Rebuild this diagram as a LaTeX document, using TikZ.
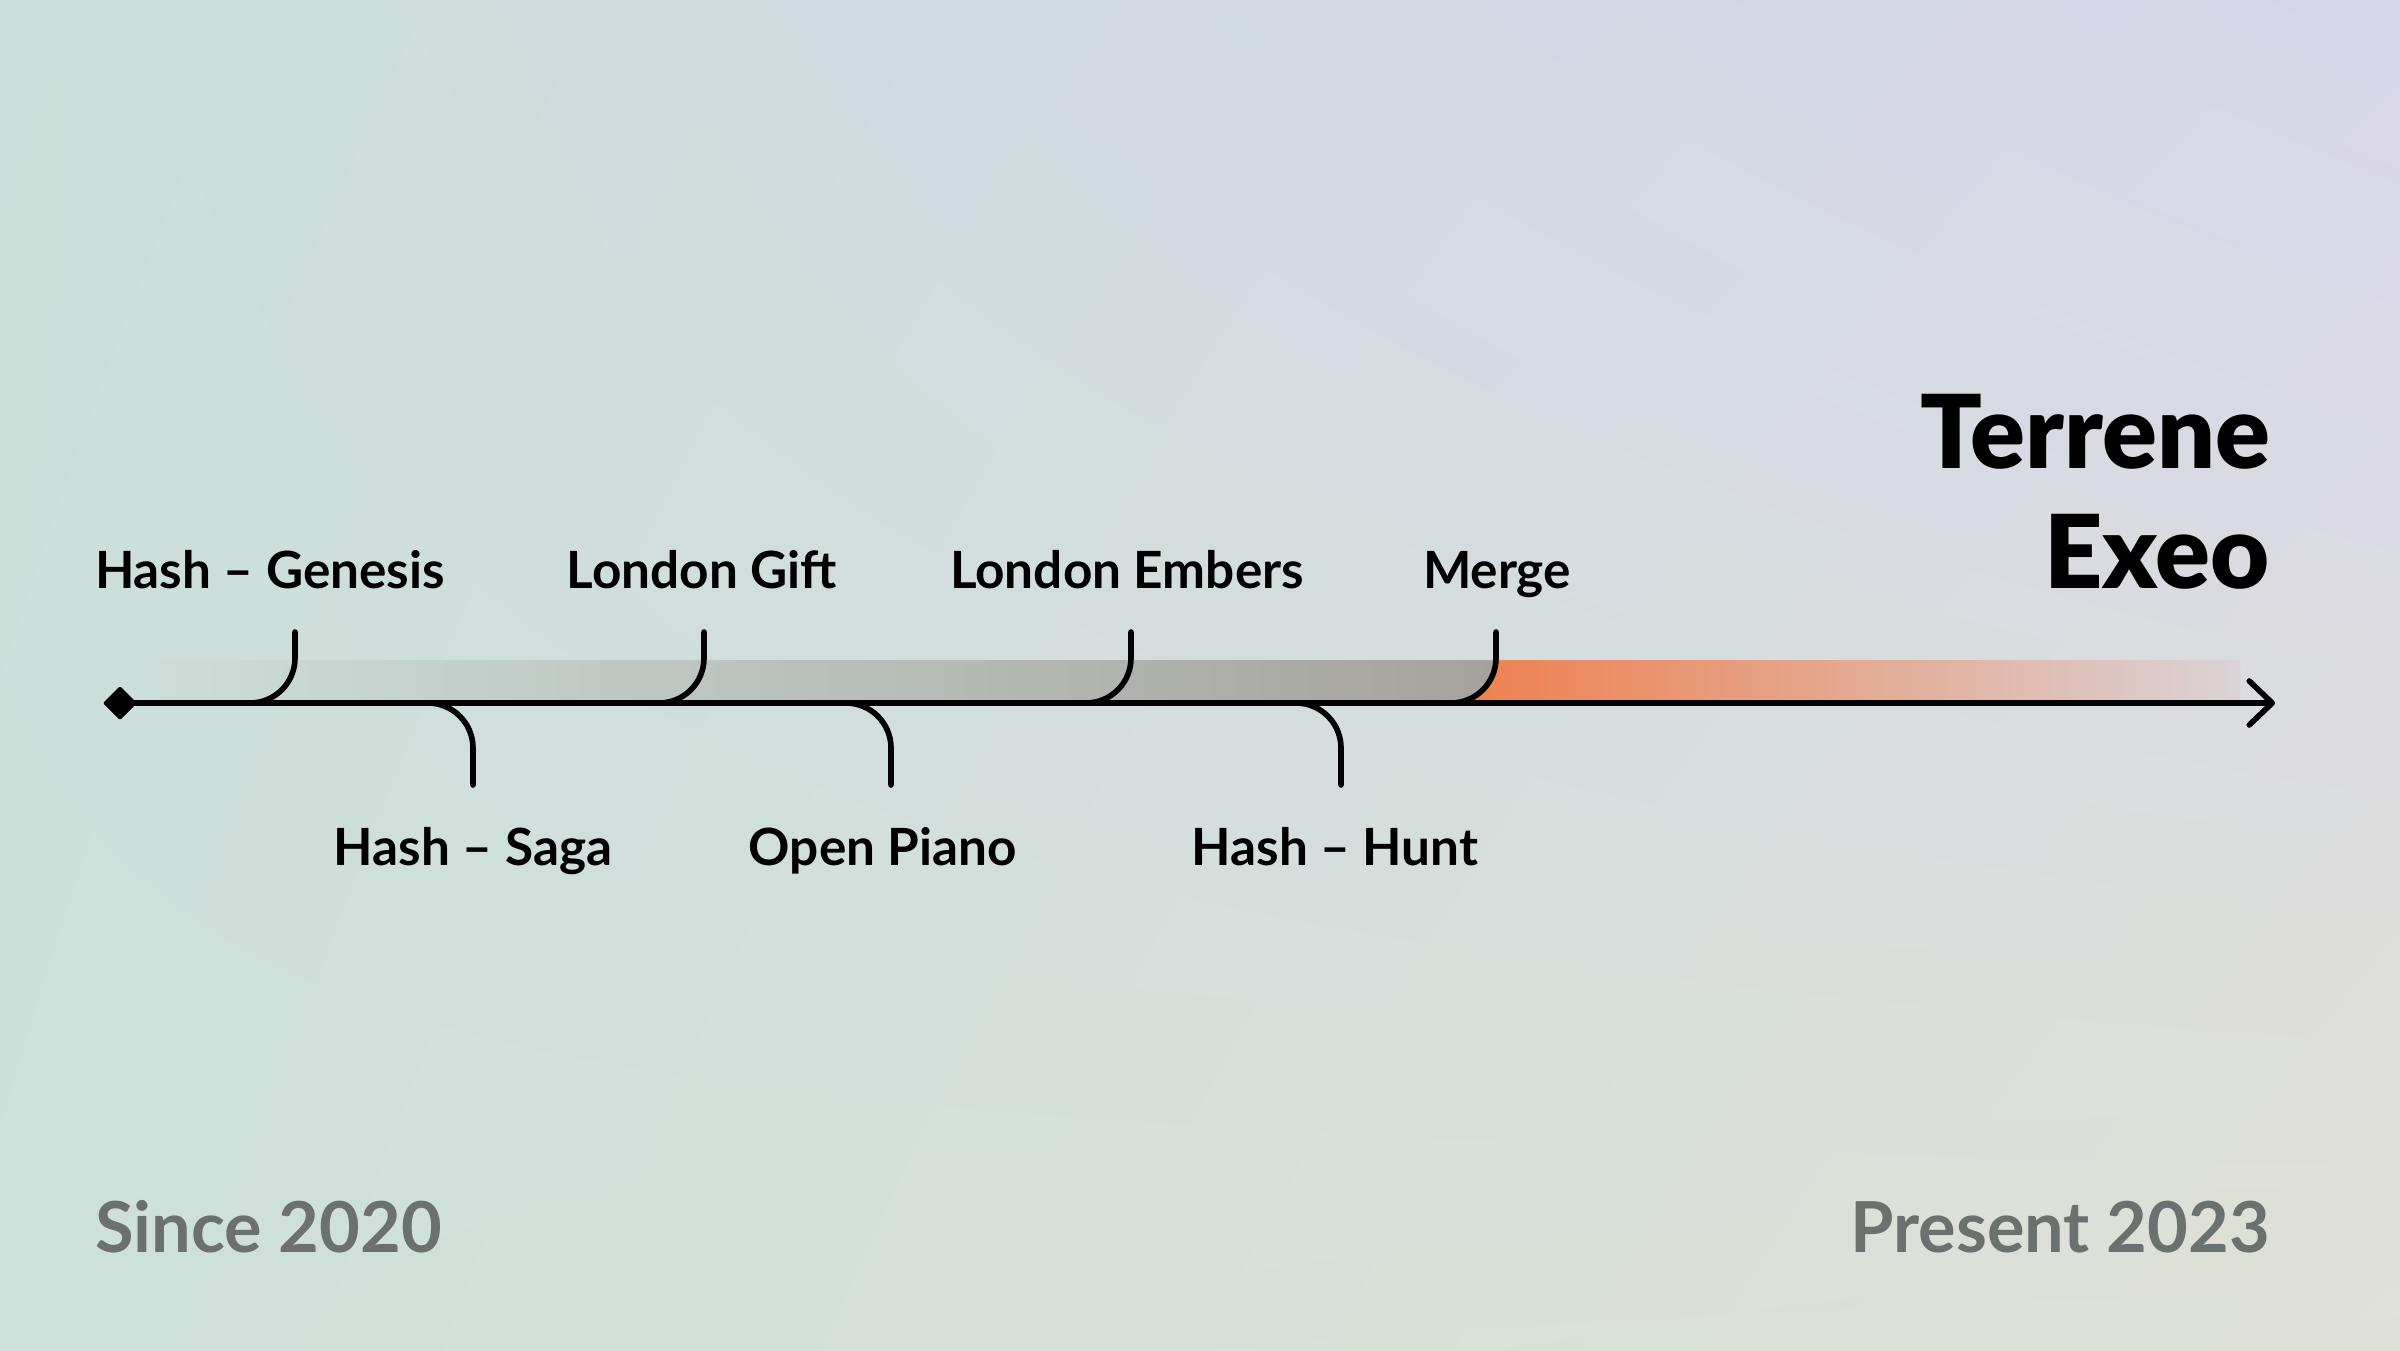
\documentclass[tikz,border=0pt]{standalone}
\usepackage{fontspec}
\setmainfont{Lato}
\newfontfamily\heavyfont{Lato Black}
\usetikzlibrary{positioning,arrows.meta,shapes.geometric,shadings}

\definecolor{bgUL}{HTML}{CADFD9}
\definecolor{bgUR}{HTML}{D8D6EA}
\definecolor{bgLL}{HTML}{CDE0DA}
\definecolor{bgLR}{HTML}{E0E1D6}
\definecolor{barfade}{HTML}{CCDDD8}
\definecolor{bargray}{HTML}{A5A29D}
\definecolor{barorange}{HTML}{EF7E4B}
\definecolor{orangefade}{HTML}{DAD3D7}
\definecolor{footgray}{HTML}{6B716E}

\begin{document}
\begin{tikzpicture}[>={Straight Barb[length=2.3mm,width=4.4mm,round]},
    every node/.style={inner sep=0pt, outer sep=0pt},
    lbl/.style={font=\bfseries\fontsize{14.6}{17}\selectfont},
    title/.style={font=\heavyfont\fontsize{29}{34}\selectfont, anchor=base east},
    foot/.style={font=\bfseries\fontsize{20}{23}\selectfont, text=footgray},
    tick/.style={line width=1.6pt, line cap=round, rounded corners=4.5mm}]
  % background
  \shade[upper left=bgUL, upper right=bgUR, lower left=bgLL, lower right=bgLR] (0,0) rectangle (24,13.5);
  \useasboundingbox (0,0) rectangle (24,13.5);

  % bars under the line
  \shade[left color=barorange, right color=orangefade] (14.5,6.47) rectangle (22.4,6.90);
  \shade[left color=barfade, right color=bargray] (1.6,6.47) -- (14.51,6.47)
    arc[start angle=-90, end angle=0, radius=0.45] -- (14.96,6.90) -- (1.6,6.90) -- cycle;

  % the time line
  \node[diamond, fill=black, minimum size=3.4mm, rounded corners=0.4pt] (start) at (1.20,6.47) {};
  \coordinate (end) at (22.75,6.47);
  \draw[->, line width=1.6pt] (start.center) -- (end);

  % events above
  \coordinate (t1) at (2.95,7.18);
  \coordinate (t2) at (7.04,7.18);
  \coordinate (t3) at (11.31,7.18);
  \coordinate (t4) at (14.96,7.18);
  \draw[tick] (t1) |- (start);
  \draw[tick] (t2) |- (start);
  \draw[tick] (t3) |- (start);
  \draw[tick] (t4) |- (start);
  \node[lbl, anchor=base west] (genesis) at (0.95,7.62) {Hash -- Genesis};
  \node[lbl, anchor=base] (gift) at (7.02,7.62) {London Gift};
  \node[lbl, anchor=base] (embers) at (11.27,7.62) {London Embers};
  \node[lbl, anchor=base] (merge) at (14.97,7.62) {Merge};

  % events below
  \coordinate (b1) at (4.73,5.65);
  \coordinate (b2) at (8.91,5.65);
  \coordinate (b3) at (13.41,5.65);
  \draw[tick] (b1) |- (start);
  \draw[tick] (b2) |- (start);
  \draw[tick] (b3) |- (start);
  \node[lbl, anchor=base] (saga) at (4.73,4.85) {Hash -- Saga};
  \node[lbl, anchor=base] (piano) at (8.83,4.85) {Open Piano};
  \node[lbl, anchor=base] (hunt) at (13.35,4.85) {Hash -- Hunt};

  % title and period
  \node[title] (terrene) at (22.70,8.82) {Terrene};
  \node[title] (exeo) at (22.70,7.62) {Exeo};
  \node[foot, anchor=base west] (since) at (0.95,0.98) {Since 2020};
  \node[foot, anchor=base east] (present) at (22.70,0.98) {Present 2023};
\end{tikzpicture}
\end{document}
